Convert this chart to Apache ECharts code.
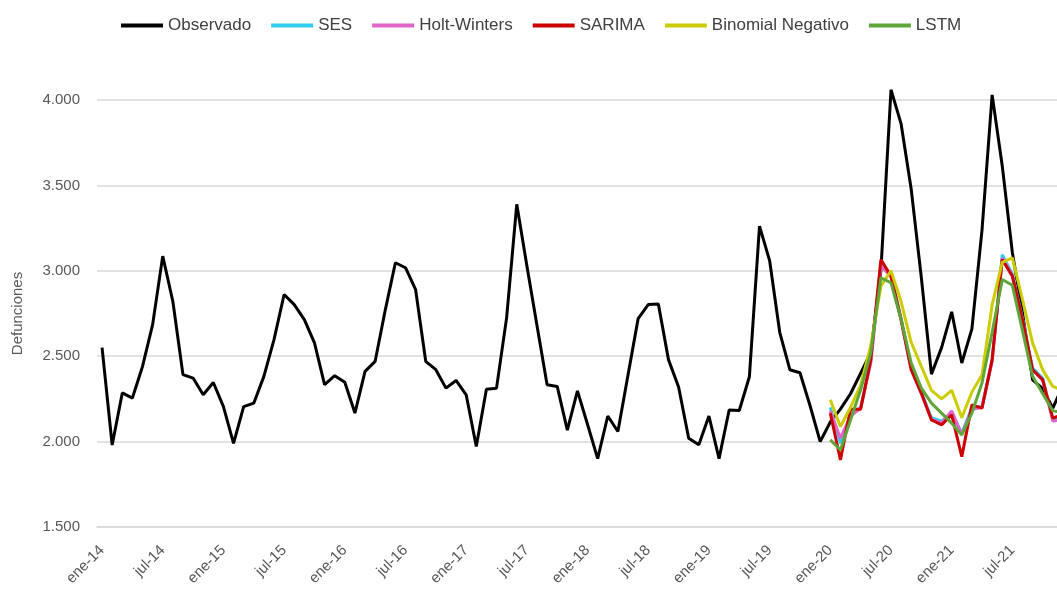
<!DOCTYPE html>
<html>
<head>
<meta charset="utf-8">
<script src="https://cdn.jsdelivr.net/npm/echarts@6/dist/echarts.min.js"></script>
<style>
    html, body { margin: 0; padding: 0; background: #fff; }
    #chartDiv { width: 1057px; height: 590px; }
</style>
</head>
<body>
<div id="chartDiv"></div>
<script>
    // meses y años del eje X (ene-14 ... dic-21)
    var meses = ['ene', 'feb', 'mar', 'abr', 'may', 'jun', 'jul', 'ago', 'sep', 'oct', 'nov', 'dic'];
    var anios = ['14', '15', '16', '17', '18', '19', '20', '21'];

    // defunciones observadas, una por mes desde ene-14
    var observado = [
        2550, 1980, 2285, 2255, 2440, 2685, 3086, 2820, 2392, 2372, 2274, 2346,
        2205, 1990, 2205, 2225, 2382, 2597, 2861, 2802, 2714, 2578, 2333, 2386,
        2347, 2167, 2411, 2470, 2770, 3047, 3018, 2890, 2470, 2421, 2313, 2358,
        2274, 1971, 2307, 2313, 2726, 3389, 3030, 2680, 2333, 2323, 2067, 2297,
        2100, 1900, 2150, 2059, 2390, 2720, 2802, 2805, 2480, 2320, 2020, 1981,
        2150, 1900, 2185, 2182, 2380, 3262, 3060, 2640, 2421, 2403, 2210, 2000,
        2115, 2190, 2280, 2400, 2520, 3000, 4060, 3860, 3477, 2960, 2395, 2550,
        2760, 2460, 2660, 3240, 4030, 3614, 3106, 2753, 2362, 2310, 2196, 2330
    ];

    // pronósticos desde ene-20
    var inicioPronostico = 72;
    var ses = [2200, 1990, 2160, 2200, 2470, 3040, 2975, 2720, 2430, 2290, 2140, 2120,
        2170, 2050, 2200, 2205, 2480, 3095, 2980, 2720, 2430, 2370, 2130, 2140];
    var holtWinters = [2180, 2020, 2150, 2195, 2460, 3030, 2965, 2710, 2420, 2280, 2130, 2110,
        2180, 2040, 2190, 2200, 2470, 3075, 2970, 2710, 2420, 2360, 2120, 2130];
    var sarima = [2167, 1893, 2190, 2190, 2480, 3066, 2969, 2714, 2421, 2284, 2127, 2098,
        2157, 1912, 2215, 2196, 2480, 3066, 2969, 2714, 2421, 2362, 2137, 2160];
    var binomialNeg = [2245, 2088, 2200, 2330, 2560, 2910, 3000, 2820, 2580, 2440, 2300, 2250,
        2300, 2140, 2290, 2390, 2800, 3050, 3076, 2832, 2578, 2420, 2323, 2300];
    var lstm = [2010, 1951, 2127, 2303, 2519, 2959, 2930, 2714, 2460, 2313, 2225, 2167,
        2108, 2039, 2167, 2343, 2640, 2949, 2915, 2650, 2382, 2280, 2180, 2170];

    var categorias = [];
    anios.forEach(function (a) {
        meses.forEach(function (m) {
            categorias.push(m + '-' + a);
        });
    });

    function rellenar(valores) {
        var out = [];
        for (var i = 0; i < inicioPronostico; i++) out.push(null);
        return out.concat(valores);
    }

    function serie(nombre, datos, color) {
        return {
            name: nombre,
            type: 'line',
            data: datos,
            symbol: 'none',
            clip: false,
            lineStyle: {width: 3, color: color},
            itemStyle: {color: color}
        };
    }

    var chart = echarts.init(document.getElementById('chartDiv'));
    chart.setOption({
        animation: false,
        textStyle: {fontFamily: 'Liberation Sans'},
        legend: {
            top: 12,
            left: 116,
            icon: 'rect',
            itemWidth: 42,
            itemHeight: 4,
            itemGap: 20,
            textStyle: {fontSize: 17, color: '#404040'}
        },
        grid: {left: 97, top: 100, width: 971, height: 427, outerBoundsMode: 'none', containLabel: false},
        xAxis: {
            type: 'category',
            boundaryGap: true,
            data: categorias,
            axisLine: {lineStyle: {color: '#d9d9d9', width: 1.5}},
            axisTick: {interval: 5, length: 5, lineStyle: {color: '#d9d9d9'}},
            axisLabel: {interval: 5, rotate: 45, fontSize: 15, color: '#595959', margin: 21}
        },
        yAxis: {
            type: 'value',
            min: 1500,
            max: 4000,
            interval: 500,
            name: 'Defunciones',
            nameLocation: 'middle',
            nameGap: 72,
            nameTextStyle: {fontSize: 15, color: '#595959'},
            axisLine: {show: false},
            axisTick: {show: false},
            axisLabel: {
                fontSize: 15, color: '#595959', margin: 17,
                formatter: function (v) {
                    return String(v).replace(/\B(?=(\d{3})+(?!\d))/g, '.');
                }
            },
            splitLine: {lineStyle: {color: '#d9d9d9', width: 1.5}}
        },
        series: [
            serie('Observado', observado, '#000000'),
            serie('SES', rellenar(ses), '#33ccee'),
            serie('Holt-Winters', rellenar(holtWinters), '#e066c8'),
            serie('SARIMA', rellenar(sarima), '#cc0000'),
            serie('Binomial Negativo', rellenar(binomialNeg), '#cccc00'),
            serie('LSTM', rellenar(lstm), '#5fa53a')
        ]
    });
</script>
</body>
</html>
